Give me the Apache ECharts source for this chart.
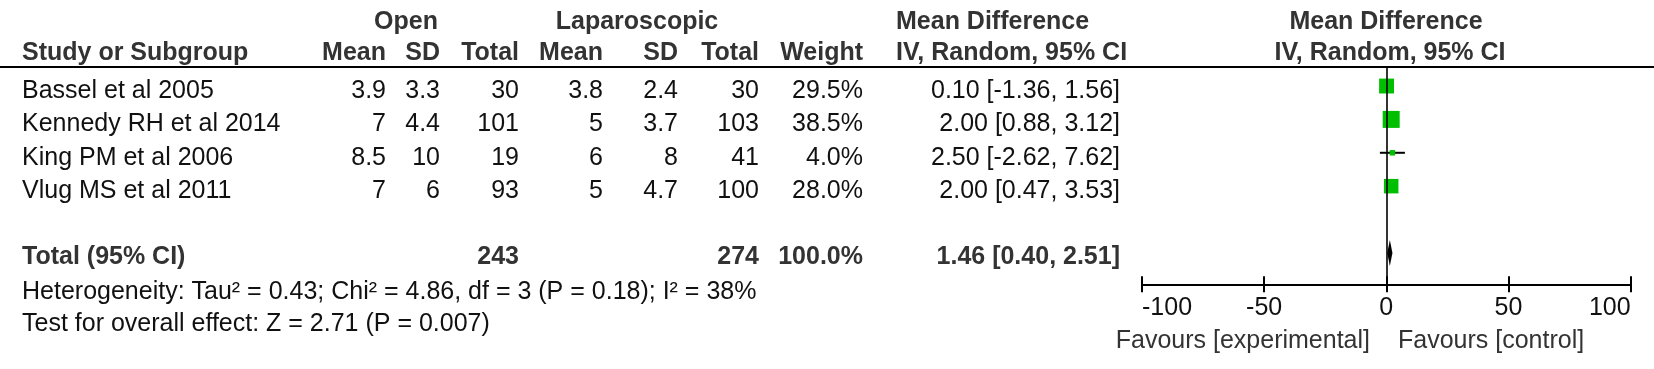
<!DOCTYPE html>
<html>
<head>
<meta charset="utf-8">
<script src="https://cdn.jsdelivr.net/npm/echarts@6/dist/echarts.min.js"></script>
<style>
html,body{margin:0;padding:0;background:#fff;}
#c{width:1654px;height:369px;}
</style>
</head>
<body>
<div id="c"></div>
<script>
// ---------------- data ----------------
const studies   = ['Bassel et al 2005', 'Kennedy RH et al 2014', 'King PM et al 2006', 'Vlug MS et al 2011'];
const openMean  = [3.9, 7, 8.5, 7];
const openSD    = [3.3, 4.4, 10, 6];
const openTotal = [30, 101, 19, 93];
const lapMean   = [3.8, 5, 6, 5];
const lapSD     = [2.4, 3.7, 8, 4.7];
const lapTotal  = [30, 103, 41, 100];
const weights   = [29.5, 38.5, 4.0, 28.0];
const md        = [0.10, 2.00, 2.50, 2.00];
const ciLow     = [-1.36, 0.88, -2.62, 0.47];
const ciHigh    = [1.56, 3.12, 7.62, 3.53];
const totalOpen = 243;
const totalLap  = 274;
const totalWeight = 100.0;
const pooled    = [1.46, 0.40, 2.51];
const xTicks    = [-100, -50, 0, 50, 100];
const heterogeneityText = 'Heterogeneity: Tau² = 0.43; Chi² = 4.86, df = 3 (P = 0.18); I² = 38%';
const overallText = 'Test for overall effect: Z = 2.71 (P = 0.007)';
const favLeft = 'Favours [experimental]';
const favRight = 'Favours [control]';

// ---------------- chart ----------------
const FONT = '"Liberation Sans", Arial, Helvetica, sans-serif';
const chart = echarts.init(document.getElementById('c'), null, {renderer: 'canvas'});

const studyData = studies.map((s, i) => [md[i], ciLow[i], ciHigh[i], i, weights[i]]);
const totalRow = studies.length + 1;

const option = {
  animation: false,
  backgroundColor: '#ffffff',
  grid: {left: 1142, top: 67, width: 488.6, height: 217.3, containLabel: false},
  xAxis: [{
    type: 'value', min: xTicks[0], max: xTicks[xTicks.length - 1], interval: 50,
    position: 'bottom',
    axisLine: {show: true, onZero: false, lineStyle: {color: '#000', width: 2}},
    axisTick: {show: true, length: 8, lineStyle: {color: '#000', width: 2}},
    axisLabel: {fontSize: 25, fontFamily: FONT, color: '#111', margin: 11,
                alignMinLabel: 'left', alignMaxLabel: 'right'},
    splitLine: {show: false}
  }, {
    type: 'value', min: xTicks[0], max: xTicks[xTicks.length - 1], interval: 50,
    position: 'bottom',
    axisLine: {show: false, onZero: false},
    axisTick: {show: true, inside: true, length: 8, lineStyle: {color: '#000', width: 2}},
    axisLabel: {show: false},
    splitLine: {show: false}
  }],
  yAxis: {type: 'value', inverse: true, min: -0.57, max: 5.94, show: false},
  series: [{
    type: 'custom',
    xAxisIndex: 0,
    data: studyData,
    renderItem: function (params, api) {
      const m = api.value(0), lo = api.value(1), hi = api.value(2), r = api.value(3), w = api.value(4);
      const pm = api.coord([m, r]);
      const pl = api.coord([lo, r]);
      const ph = api.coord([hi, r]);
      const side = 2.74 * Math.sqrt(w);
      return {
        type: 'group',
        children: [{
          type: 'line',
          shape: {x1: pl[0], y1: pl[1], x2: ph[0], y2: ph[1]},
          style: {stroke: '#000', lineWidth: 2}
        }, {
          type: 'rect',
          shape: {x: pm[0] - side / 2, y: pm[1] - side / 2, width: side, height: side},
          style: {fill: '#00bf00'}
        }]
      };
    },
    markLine: {
      silent: true, symbol: 'none', label: {show: false},
      lineStyle: {color: '#000', width: 1.6, type: 'solid'},
      data: [{xAxis: 0}]
    },
    z: 3
  }, {
    type: 'custom',
    xAxisIndex: 0,
    data: [[pooled[0], pooled[1], pooled[2], totalRow]],
    renderItem: function (params, api) {
      const r = api.value(3);
      const c = api.coord([api.value(0), r]);
      const l = api.coord([api.value(1), r]);
      const h = api.coord([api.value(2), r]);
      const hh = 13;
      return {
        type: 'polygon',
        shape: {points: [[l[0], l[1]], [c[0], c[1] - hh], [h[0], h[1]], [c[0], c[1] + hh]]},
        style: {fill: '#000'}
      };
    },
    z: 4
  }]
};
chart.setOption(option);

// ---------------- table text ----------------
function rowY(k) { return chart.convertToPixel({yAxisIndex: 0}, k); }
function txt(text, x, y, align, bold, color) {
  return {
    type: 'text', x: x, y: y, silent: true,
    style: {
      text: String(text), fontSize: 25, fontFamily: FONT,
      fontWeight: bold ? 'bold' : 'normal',
      fill: color || '#111',
      align: align, verticalAlign: 'middle',
      textAlign: align, textVerticalAlign: 'middle'
    }
  };
}
const COL = {study: 22, oMean: 386, oSD: 440, oTot: 519, lMean: 603, lSD: 678, lTot: 759, w: 863, ci: 1120};
const HC = '#333';
const g = [];
// rule under headers
g.push({type: 'line', shape: {x1: 0, y1: 67, x2: 1654, y2: 67}, style: {stroke: '#000', lineWidth: 2}, silent: true});
// header row 1
const h1 = 22, h2 = 53;
g.push(txt('Open', 406, h1, 'center', true, HC));
g.push(txt('Laparoscopic', 637, h1, 'center', true, HC));
g.push(txt('Mean Difference', 896, h1, 'left', true, HC));
g.push(txt('Mean Difference', 1386, h1, 'center', true, HC));
// header row 2
g.push(txt('Study or Subgroup', COL.study, h2, 'left', true, HC));
g.push(txt('Mean', COL.oMean, h2, 'right', true, HC));
g.push(txt('SD', COL.oSD, h2, 'right', true, HC));
g.push(txt('Total', COL.oTot, h2, 'right', true, HC));
g.push(txt('Mean', COL.lMean, h2, 'right', true, HC));
g.push(txt('SD', COL.lSD, h2, 'right', true, HC));
g.push(txt('Total', COL.lTot, h2, 'right', true, HC));
g.push(txt('Weight', COL.w, h2, 'right', true, HC));
g.push(txt('IV, Random, 95% CI', 896, h2, 'left', true, HC));
g.push(txt('IV, Random, 95% CI', 1390, h2, 'center', true, HC));
// study rows
studies.forEach((s, i) => {
  const y = rowY(i) + 5;
  g.push(txt(s, COL.study, y, 'left'));
  g.push(txt(openMean[i], COL.oMean, y, 'right'));
  g.push(txt(openSD[i], COL.oSD, y, 'right'));
  g.push(txt(openTotal[i], COL.oTot, y, 'right'));
  g.push(txt(lapMean[i], COL.lMean, y, 'right'));
  g.push(txt(lapSD[i], COL.lSD, y, 'right'));
  g.push(txt(lapTotal[i], COL.lTot, y, 'right'));
  g.push(txt(weights[i].toFixed(1) + '%', COL.w, y, 'right'));
  g.push(txt(md[i].toFixed(2) + ' [' + ciLow[i].toFixed(2) + ', ' + ciHigh[i].toFixed(2) + ']', COL.ci, y, 'right'));
});
// total row
const ty = rowY(totalRow) + 4;
g.push(txt('Total (95% CI)', COL.study, ty, 'left', true, HC));
g.push(txt(totalOpen, COL.oTot, ty, 'right', true, HC));
g.push(txt(totalLap, COL.lTot, ty, 'right', true, HC));
g.push(txt(totalWeight.toFixed(1) + '%', COL.w, ty, 'right', true, HC));
g.push(txt(pooled[0].toFixed(2) + ' [' + pooled[1].toFixed(2) + ', ' + pooled[2].toFixed(2) + ']', COL.ci, ty, 'right', true, HC));
// footer
g.push(txt(heterogeneityText, 22, 292, 'left'));
g.push(txt(overallText, 22, 324, 'left'));
g.push(txt(favLeft, 1370, 341, 'right', false, '#333'));
g.push(txt(favRight, 1398, 341, 'left', false, '#333'));

chart.setOption({graphic: g});
</script>
</body>
</html>
